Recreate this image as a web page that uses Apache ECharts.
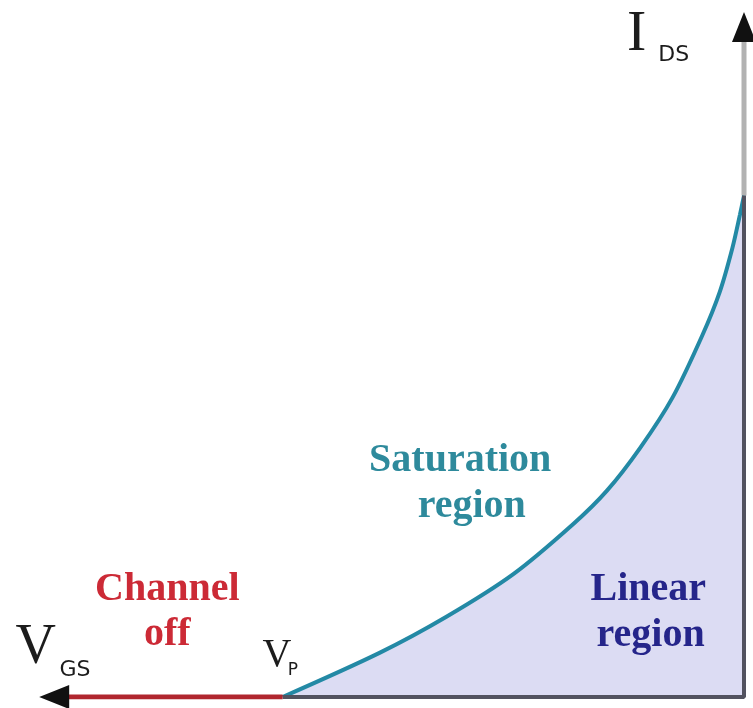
<!DOCTYPE html>
<html>
<head>
<meta charset="utf-8">
<script src="https://cdn.jsdelivr.net/npm/echarts@6/dist/echarts.min.js"></script>
<style>
  html, body { margin: 0; padding: 0; background: #ffffff; }
  #chart { width: 753px; height: 708px; }
</style>
</head>
<body>
<div id="chart"></div>
<script>
// JFET transfer characteristic: drain current I_DS versus gate-source voltage V_GS
const pinchOff = -4;          // V_P
const idss = 10;              // I_DS at V_GS = 0
const vgsPoints = [-4, -3.16, -2.58, -2.0, -1.48, -1.19, -0.9, -0.62, -0.36, -0.21, -0.1, -0.035, 0];
const idsPoints = [0, 0.88, 1.6, 2.45, 3.45, 4.11, 4.97, 5.97, 7.22, 8.08, 8.96, 9.62, 10];

// Axis extents (arrow-head centres)
const vgsAxisEnd = -5.98;
const idsAxisEnd = 13.36;

// Region annotations: [text, vgs, ids, colour]
const regionLabels = [
  ['Saturation', -2.46, 4.72, '#2e8a9c'],
  ['region',     -2.36, 3.8,  '#2e8a9c'],
  ['Channel',    -5.0,  2.15, '#cc2a36'],
  ['off',        -5.0,  1.24, '#cc2a36'],
  ['Linear',     -0.83, 2.15, '#25258a'],
  ['region',     -0.81, 1.22, '#25258a']
];

// Axis symbols: [text, vgs, ids, fontSize, fontFamily]
const symbolLabels = [
  ['V',  -6.14, 0.98, 56, 'Liberation Serif'],
  ['GS', -5.80, 0.54, 22, 'DejaVu Sans'],
  ['V',  -4.05, 0.82, 40, 'Liberation Serif'],
  ['P',  -3.91, 0.52, 17, 'DejaVu Sans'],
  ['I',  -0.93, 13.2, 58, 'Liberation Serif'],
  ['DS', -0.61, 12.8, 22, 'DejaVu Sans']
];

const curve = vgsPoints.map((v, i) => [v, idsPoints[i]]);

function textLabel(text, color, family, size, weight) {
  return {
    show: true,
    position: 'inside',
    formatter: text,
    color: color,
    fontFamily: family,
    fontWeight: weight,
    fontSize: size,
    textBorderWidth: 0,
    textBorderColor: 'transparent',
    textShadowBlur: 0
  };
}

const chart = echarts.init(document.getElementById('chart'), null, { renderer: 'canvas' });

chart.setOption({
  animation: false,
  backgroundColor: '#ffffff',
  grid: { left: 0, right: 9, top: 0, bottom: 11 },
  xAxis: { type: 'value', min: -6.45, max: 0, show: false },
  yAxis: { type: 'value', min: 0, max: 13.9, show: false },
  series: [
    {
      // transfer curve with the shaded region beneath it
      type: 'line',
      data: curve,
      smooth: 0.3,
      symbol: 'none',
      lineStyle: { color: '#2389a5', width: 4 },
      areaStyle: { color: '#dcdcf3', opacity: 1 },
      z: 3
    },
    {
      // bottom and right frame of the conducting region
      type: 'line',
      data: [[pinchOff, 0], [0, 0], [0, idss]],
      symbol: 'none',
      lineStyle: { color: '#52525f', width: 4 },
      z: 4
    },
    {
      // cut-off segment along the V_GS axis
      type: 'line',
      data: [[pinchOff, 0], [vgsAxisEnd, 0]],
      symbol: 'none',
      lineStyle: { color: '#b0262e', width: 5 },
      z: 5
    },
    {
      // upper part of the I_DS axis
      type: 'line',
      data: [[0, idss], [0, idsAxisEnd]],
      symbol: 'none',
      lineStyle: { color: '#b2b2b2', width: 5 },
      z: 2
    },
    {
      // arrow heads on both axes
      type: 'scatter',
      silent: true,
      symbol: 'triangle',
      symbolSize: [24, 30],
      itemStyle: { color: '#111111', opacity: 1 },
      data: [
        { value: [vgsAxisEnd, 0], symbolRotate: 90 },
        { value: [0, idsAxisEnd], symbolRotate: 0 }
      ],
      z: 6
    },
    {
      // region annotations
      type: 'scatter',
      symbolSize: 0,
      silent: true,
      itemStyle: { color: 'rgba(0,0,0,0)', opacity: 1 },
      data: regionLabels.map(r => ({
        value: [r[1], r[2]],
        label: textLabel(r[0], r[3], 'Liberation Serif', 40, 'bold')
      })),
      z: 6
    },
    {
      // axis symbols
      type: 'scatter',
      symbolSize: 0,
      silent: true,
      itemStyle: { color: 'rgba(0,0,0,0)', opacity: 1 },
      data: symbolLabels.map(s => ({
        value: [s[1], s[2]],
        label: textLabel(s[0], '#1c1c1c', s[4], s[3], 'normal')
      })),
      z: 6
    }
  ]
});
</script>
</body>
</html>
